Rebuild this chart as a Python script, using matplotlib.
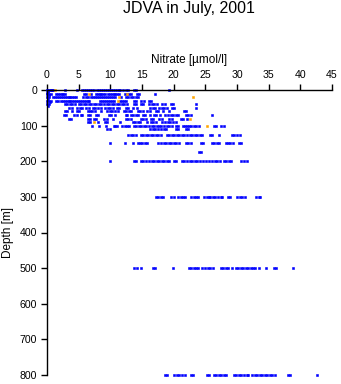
import matplotlib
matplotlib.use("Agg")
import matplotlib.pyplot as plt

# Nitrate profiles (µmol/l) by sampling depth (m)
depths = [0, 10, 20, 30, 40, 50, 60, 70, 80, 90, 100, 110, 125, 150, 175, 200, 300, 500, 800]

nitrate_0 = [0, 0.2, 0.4, 0.6, 0.8, 1.0, 2.8, 4.7, 5.6, 5.9, 6.2, 6.5, 6.8, 7.1, 7.4, 7.9, 8.2,
             8.5, 8.8, 9.1, 9.4, 9.8, 10.1, 10.4, 10.7, 11.0, 11.3, 11.6, 12.0, 12.4, 12.8, 13.7,
             14.1, 19.2]
nitrate_10 = [0, 0.3, 0.6, 1.4, 1.7, 2.0, 2.3, 2.6, 2.9, 5.8, 6.2, 7.0, 7.7, 8.0, 8.3, 8.6, 8.9,
              9.2, 9.6, 9.9, 10.2, 10.5, 10.8, 11.1, 11.4, 12.3, 12.6, 13.0, 13.3, 14.2, 14.6, 17.1]
nitrate_20 = [0, 0.3, 1.0, 1.3, 1.6, 1.9, 2.2, 2.5, 2.8, 3.1, 3.4, 3.7, 4.0, 4.3, 4.6, 5.7, 6.1,
              6.5, 7.0, 7.3, 7.6, 7.9, 8.2, 8.6, 8.9, 9.2, 9.5, 9.8, 10.1, 10.4, 10.8, 11.7, 12.4,
              12.8, 13.2, 13.6, 14.0, 14.4]
nitrate_30 = [0, 0.3, 0.6, 1.5, 1.8, 2.2, 2.5, 2.8, 3.1, 3.4, 3.7, 4.0, 4.3, 4.6, 4.9, 5.2, 5.5,
              5.8, 6.1, 6.4, 6.7, 8.4, 8.7, 9.0, 9.3, 9.6, 9.9, 10.2, 10.5, 11.5, 11.8, 12.1, 12.5,
              13.7, 14.1, 14.8, 15.3, 16.1, 16.4]
nitrate_40 = [0, 0.3, 2.8, 3.2, 3.6, 4.0, 4.4, 5.0, 5.4, 5.8, 6.2, 6.6, 7.0, 7.4, 7.8, 8.2, 8.6,
              9.0, 9.4, 9.8, 10.2, 10.6, 11.0, 11.4, 11.8, 12.2, 12.6, 13.7, 14.1, 14.8, 15.2,
              16.1, 16.5, 16.9, 17.3, 18.2, 18.7, 19.5, 19.9, 23.6]
nitrate_50 = [3.5, 4.0, 4.8, 5.2, 5.6, 6.2, 6.6, 7.2, 7.6, 8.0, 8.6, 9.2, 9.6, 10.0, 10.4, 11.0,
              11.4, 12.4, 12.8, 13.6, 14.2, 16.3, 16.7, 17.1, 17.7, 18.1, 18.4, 19.0, 19.8, 20.1,
              23.5]
nitrate_60 = [2.8, 3.1, 4.0, 4.8, 5.1, 6.4, 6.8, 7.1, 7.5, 8.5, 9.5, 9.9, 10.3, 10.8, 11.2, 12.1,
              12.5, 12.9, 13.3, 14.3, 14.7, 15.1, 15.8, 16.2, 17.2, 17.6, 18.3, 19.3, 21.6, 22.0]
nitrate_70 = [2.7, 3.0, 4.3, 4.7, 5.3, 5.6, 6.4, 6.8, 7.7, 8.0, 9.8, 10.1, 10.8, 12.4, 12.7, 13.2,
              13.5, 14.0, 14.4, 15.1, 15.5, 16.3, 16.9, 17.2, 17.8, 18.7, 19.1, 19.5, 19.9, 20.3,
              20.7, 21.9, 22.3, 22.7, 26.1]
nitrate_80 = [3.5, 3.8, 6.4, 6.8, 7.4, 7.8, 9.0, 9.4, 10.4, 12.4, 12.8, 13.2, 14.8, 15.2, 15.6,
              16.4, 16.8, 17.7, 18.1, 19.2, 19.7, 21.1, 21.5, 22.1]
nitrate_90 = [6.4, 6.8, 8.0, 9.1, 9.4, 11.5, 13.5, 13.9, 14.3, 14.7, 15.8, 16.4, 16.8, 17.2, 18.2,
              18.6, 19.1, 19.4, 19.9, 20.3]
nitrate_100 = [7.1, 8.2, 9.3, 10.5, 10.8, 11.1, 11.8, 12.3, 12.6, 13.0, 13.7, 14.1, 14.5, 14.9,
               15.3, 15.6, 16.1, 16.5, 16.9, 17.3, 17.7, 18.0, 18.5, 18.9, 19.3, 19.7, 20.3, 20.7,
               21.4, 21.8, 22.1, 22.4, 22.8, 23.2, 23.6, 24.0, 26.3, 26.7, 27.5, 27.9]
nitrate_110 = [9.5, 9.9, 16.3, 16.7, 17.0, 17.6, 18.0, 18.4, 18.8, 20.4, 20.7, 21.9, 22.2]
nitrate_125 = [12.8, 13.2, 13.6, 14.0, 14.8, 15.2, 15.6, 16.0, 16.4, 16.8, 17.2, 17.6, 18.0, 18.9,
               19.3, 19.7, 20.1, 20.5, 20.9, 21.3, 21.7, 22.1, 22.5, 22.9, 23.3, 23.7, 24.1, 24.4,
               25.7, 26.0, 27.2, 29.2, 29.6, 30.0, 30.4]
nitrate_150 = [9.9, 12.3, 13.5, 14.3, 14.7, 15.0, 15.4, 15.8, 17.6, 18.0, 18.4, 18.8, 19.2, 19.6,
               20.0, 20.4, 20.8, 21.9, 22.3, 22.7, 24.3, 24.7, 26.0, 26.4, 26.8, 27.2, 28.2, 28.6,
               28.9, 29.4, 30.3, 30.7]
nitrate_175 = [24.0, 24.3]
nitrate_200 = [9.9, 13.7, 14.1, 14.8, 15.2, 15.7, 16.1, 16.5, 16.9, 17.3, 17.7, 18.1, 18.5, 18.9,
               19.2, 20.0, 20.4, 21.3, 21.7, 22.1, 22.5, 22.9, 23.3, 23.7, 24.1, 24.7, 25.1, 25.5,
               26.1, 26.5, 26.9, 27.3, 27.9, 28.3, 28.7, 29.0, 30.7, 31.1, 31.5]
nitrate_300 = [17.2, 17.6, 18.0, 18.3, 19.6, 20.1, 20.7, 21.1, 21.5, 21.8, 22.8, 23.2, 23.6, 23.9,
               24.8, 25.2, 25.5, 25.8, 26.2, 26.6, 27.0, 27.4, 27.7, 28.5, 28.9, 30.0, 30.4, 30.8,
               31.2, 33.0, 33.4, 33.7]
nitrate_500 = [13.7, 14.2, 14.9, 16.7, 17.1, 19.9, 22.4, 22.8, 23.2, 23.6, 23.9, 24.4, 24.9, 25.4,
               25.8, 26.2, 27.4, 27.8, 28.2, 28.6, 29.2, 29.8, 30.2, 30.6, 31.0, 31.4, 31.8, 32.2,
               32.6, 32.9, 33.5, 34.5, 35.9, 36.2, 38.8]
nitrate_800 = [18.7, 19.0, 20.1, 20.5, 20.9, 21.3, 21.8, 22.7, 23.0, 25.2, 25.6, 26.3, 26.7, 27.1,
               27.5, 27.9, 28.3, 29.5, 29.9, 30.3, 30.7, 31.1, 31.5, 31.8, 32.4, 32.8, 33.2, 33.6,
               34.0, 34.4, 34.8, 35.2, 35.6, 36.0, 38.0, 38.4, 42.7]

# Near-zero surface-layer samples between the standard depths
surface_depths = [3, 5, 8, 15, 25, 35, 45]
surface_nitrate = [0.1, 0.2, 0.0, 0.3, 0.1, 0.4, 0.2]

# Flagged samples
flag_depths = [0, 10, 10, 20, 20, 30, 80, 90, 100]
flag_nitrate = [1.3, 6.7, 12.7, 11.4, 23.1, 11.2, 22.6, 7.4, 25.3]

profiles = [nitrate_0, nitrate_10, nitrate_20, nitrate_30, nitrate_40, nitrate_50, nitrate_60,
            nitrate_70, nitrate_80, nitrate_90, nitrate_100, nitrate_110, nitrate_125,
            nitrate_150, nitrate_175, nitrate_200, nitrate_300, nitrate_500, nitrate_800]

x_ticks = [0, 5, 10, 15, 20, 25, 30, 35, 40, 45]
y_ticks = [0, 100, 200, 300, 400, 500, 600, 700, 800]

plt.rcParams['font.family'] = ['Liberation Sans', 'DejaVu Sans']

fig = plt.figure(figsize=(3.41, 3.84), dpi=100)
ax = fig.add_axes([47 / 341, 1 - 375 / 384, 285 / 341, 285 / 384])

xs, ys = [], []
for d, vals in zip(depths, profiles):
    xs.extend(vals)
    ys.extend([d] * len(vals))
xs.extend(surface_nitrate)
ys.extend(surface_depths)

ax.plot(xs, ys, linestyle='none', marker='s', ms=2.0, mew=0.4, color='#0000ff',
        clip_on=False)
ax.plot(flag_nitrate, flag_depths, linestyle='none', marker='s', ms=2.0, mew=0.4,
        color='#ffa500', clip_on=False)

ax.set_xlim(0, 45)
ax.set_ylim(800, 0)
ax.set_xticks(x_ticks)
ax.set_yticks(y_ticks)
ax.xaxis.tick_top()
ax.xaxis.set_label_position('top')
for side in ('right', 'bottom'):
    ax.spines[side].set_visible(False)
for side in ('top', 'left'):
    ax.spines[side].set_linewidth(1.0)
ax.tick_params(axis='both', direction='out', length=4, width=1.0, labelsize=7.6, pad=3)

ax.set_xlabel('Nitrate [µmol/l]', fontsize=8.5, labelpad=5)
ax.set_ylabel('Depth [m]', fontsize=8.5, labelpad=4)

fig.text(189 / 341, 1 - 8 / 384, 'JDVA in July, 2001', ha='center', va='center', fontsize=11.5)

fig.savefig('out.png', dpi=100)
